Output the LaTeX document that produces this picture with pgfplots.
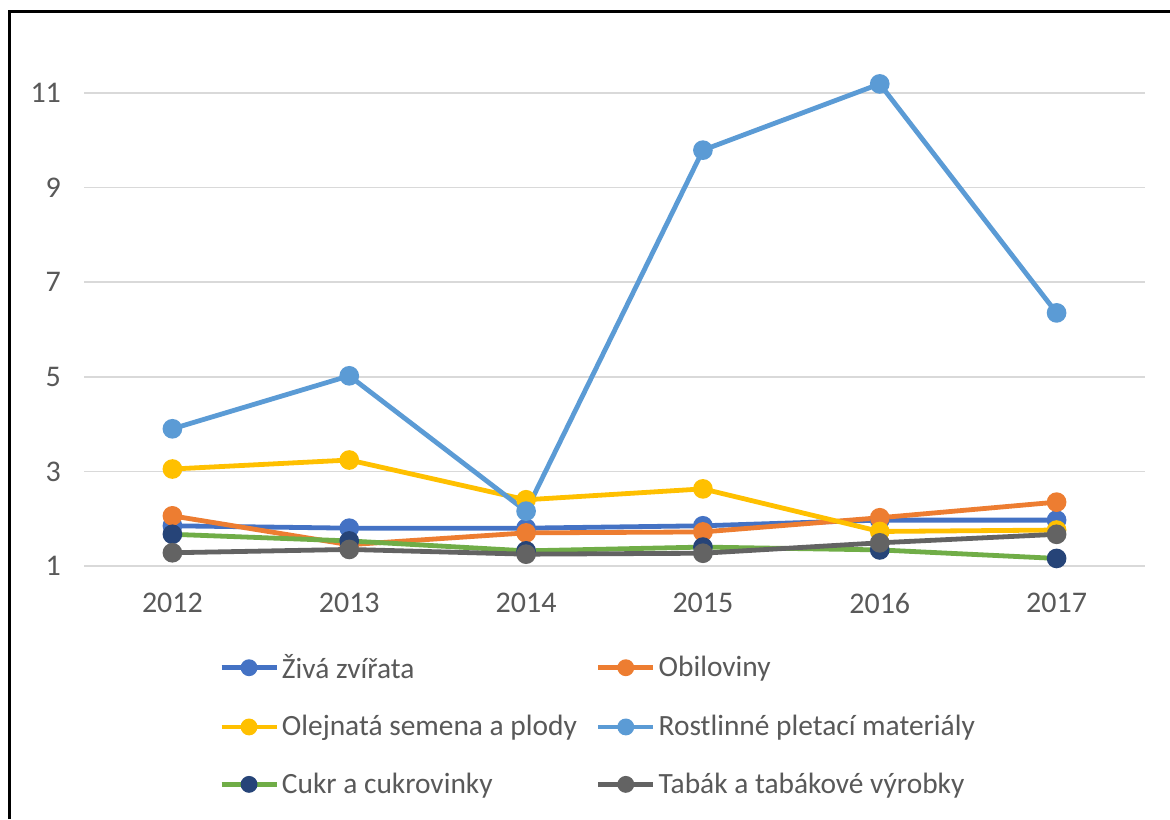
\documentclass[border=0pt]{standalone}
\usepackage{fontspec}
\setmainfont{Carlito}
\usepackage{pgfplots}
\pgfplotsset{compat=1.18}
\definecolor{cBlue}{HTML}{4472C4}
\definecolor{cOrange}{HTML}{ED7D31}
\definecolor{cYellow}{HTML}{FFC000}
\definecolor{cLight}{HTML}{5B9BD5}
\definecolor{cGreen}{HTML}{70AD47}
\definecolor{cNavy}{HTML}{264478}
\definecolor{cGray}{HTML}{636363}
\definecolor{cText}{HTML}{595959}
\definecolor{cGrid}{HTML}{D9D9D9}
\begin{document}
\begin{tikzpicture}[x=1pt,y=1pt]
\useasboundingbox (0,0) rectangle (585,409.5);
\fill[white] (0,0) rectangle (585,409.5);
\draw[line width=1.5pt] (4.5,0) -- (4.5,403.75) -- (585,403.75);
\begin{axis}[
  at={(42pt,126.5pt)}, anchor=south west,
  scale only axis, width=530.5pt, height=260.2pt,
  xmin=-0.5, xmax=5.5, ymin=1, ymax=12,
  xtick={0,1,2,3,4,5},
  xticklabels={2012,2013,2014,2015,2016,2017},
  ytick={1,3,5,7,9,11},
  axis line style={draw=none},
  major tick length=0pt,
  ymajorgrids, grid style={cGrid, line width=0.75pt},
  /pgf/number format/assume math mode=true,
  tick label style={font=\fontsize{15}{17}\selectfont, text=cText},
  yticklabel style={xshift=-8pt},
  xticklabel style={yshift=-10pt},
  clip=false,
  every axis plot/.append style={line width=2.4pt, mark=*, mark size=3.7pt},
  legend columns=2,
  legend cell align=left,
  legend style={at={(axis description cs:0.127,-0.161)}, anchor=north west, draw=none, fill=none,
    font=\fontsize{14.7}{16}\selectfont, text=cText, inner sep=0pt,
    nodes={inner xsep=1.5pt, inner ysep=2pt},
    row sep=13pt,
    /tikz/every even column/.append style={column sep=8pt}},
  legend image code/.code={
    \draw[mark repeat=2, mark phase=2, mark size=3pt] plot coordinates {(0pt,0pt) (13.75pt,0pt) (27.5pt,0pt)};
  },
]
\addplot[cBlue, mark options={fill=cBlue, draw=cBlue}] coordinates {(0,1.85) (1,1.80) (2,1.80) (3,1.85) (4,1.97) (5,1.97)};
\addlegendentry{Živá zvířata}
\addplot[cOrange, mark options={fill=cOrange, draw=cOrange}] coordinates {(0,2.06) (1,1.45) (2,1.70) (3,1.72) (4,2.02) (5,2.35)};
\addlegendentry{Obiloviny}
\addplot[cYellow, mark options={fill=cYellow, draw=cYellow}] coordinates {(0,3.05) (1,3.24) (2,2.40) (3,2.63) (4,1.73) (5,1.76)};
\addlegendentry{Olejnatá semena a plody}
\addplot[cLight, mark options={fill=cLight, draw=cLight}] coordinates {(0,3.90) (1,5.02) (2,2.16) (3,9.79) (4,11.19) (5,6.35)};
\addlegendentry{Rostlinné pletací materiály}
\addplot[cGreen, mark options={fill=cNavy, draw=cNavy}] coordinates {(0,1.67) (1,1.53) (2,1.32) (3,1.40) (4,1.34) (5,1.16)};
\addlegendentry{Cukr a cukrovinky}
\addplot[cGray, mark options={fill=cGray, draw=cGray}] coordinates {(0,1.28) (1,1.35) (2,1.25) (3,1.27) (4,1.49) (5,1.67)};
\addlegendentry{Tabák a tabákové výrobky}
\end{axis}
\end{tikzpicture}
\end{document}
